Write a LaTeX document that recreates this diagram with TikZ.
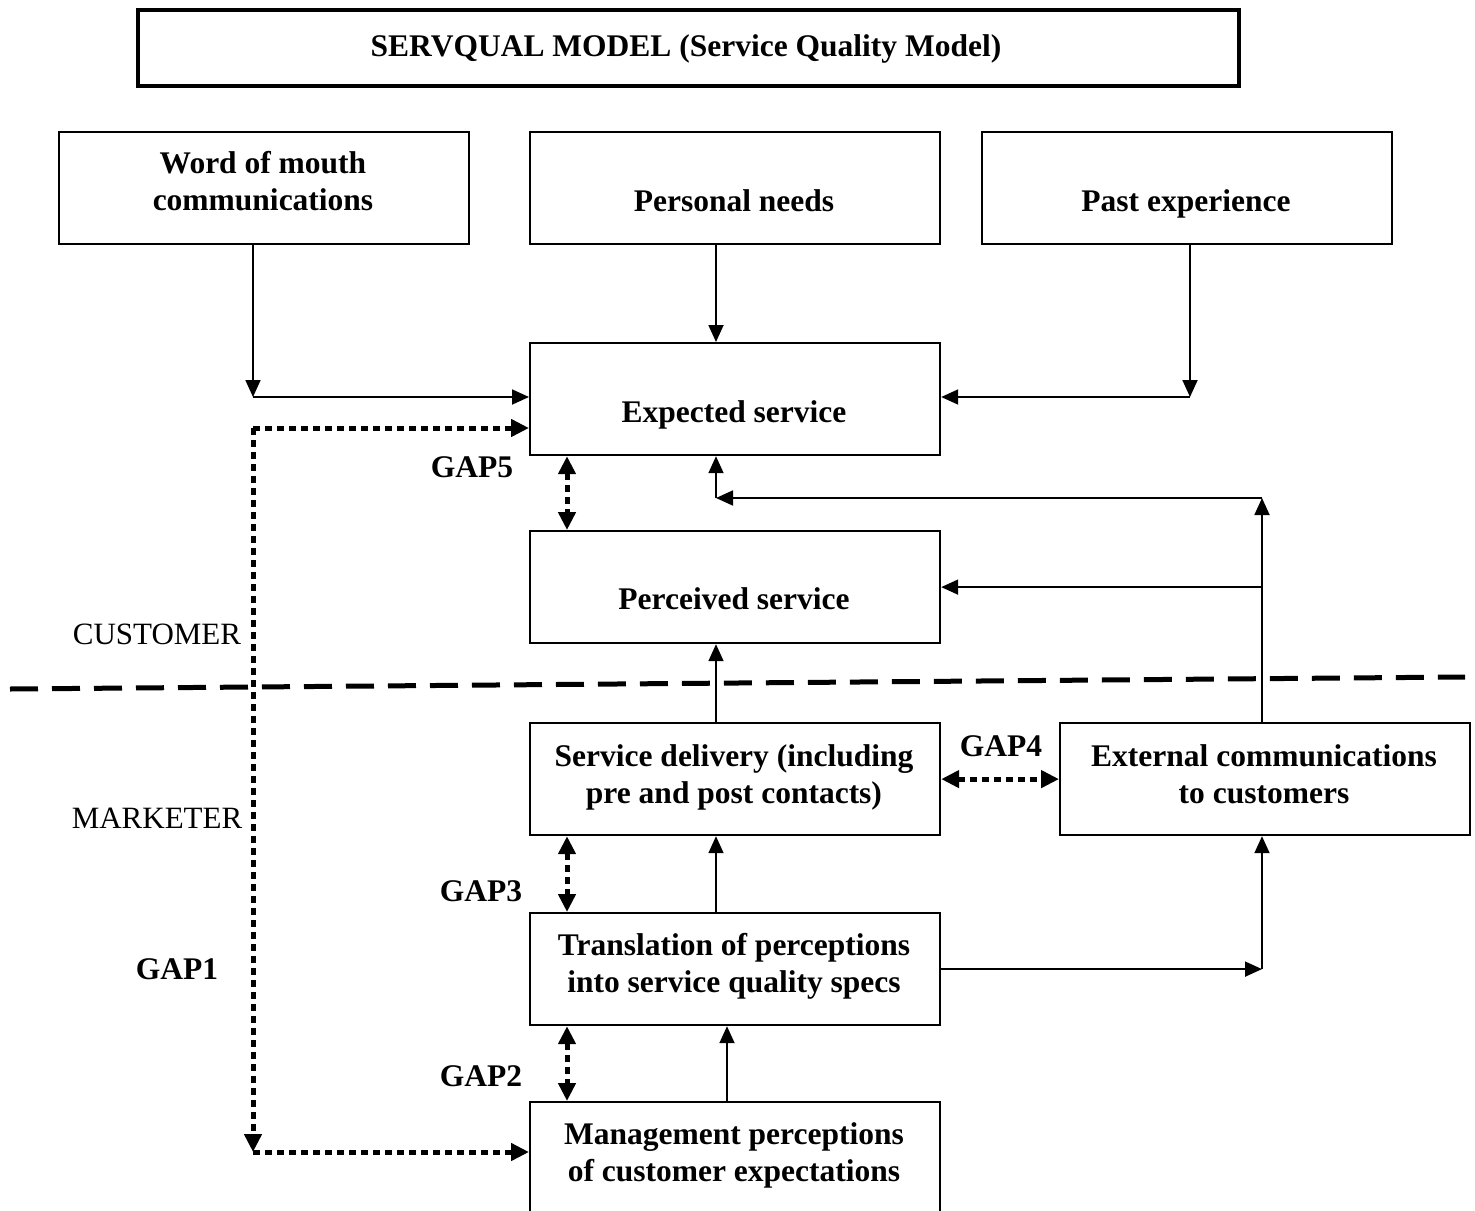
\documentclass[tikz,border=0pt]{standalone}
\usepackage{fontspec}
\setmainfont{Liberation Serif}
\usetikzlibrary{arrows.meta}

\begin{document}
\begin{tikzpicture}[x=1pt,y=-1pt,
  box/.style={draw, line width=2.2pt, minimum width=410pt, minimum height=112pt,
              inner sep=0pt, anchor=north west},
  txt/.style={anchor=base, align=center, inner sep=0pt,
              font=\fontsize{31.5}{37.5}\selectfont\bfseries},
  side/.style={anchor=base, inner sep=0pt, font=\fontsize{31}{36}\selectfont},
  arr/.style={line width=1.8pt, -{Triangle[length=17pt,width=15pt]}},
  dotline/.style={line width=5pt, dash pattern=on 6.5pt off 5.5pt},
  dotarr/.style={dotline, -{Triangle[length=18pt,width=17pt]}},
  dotdbl/.style={dotline, {Triangle[length=18pt,width=17pt]}-{Triangle[length=18pt,width=17pt]}},
  sepline/.style={line width=5pt, dash pattern=on 28pt off 14pt}
]
\useasboundingbox (0,0) rectangle (1475,1210);

% title
\node[draw, line width=4pt, minimum width=1101pt, minimum height=76pt, inner sep=0pt,
      anchor=north west] (title) at (136,8) {};
\node[txt] at (686,56) {SERVQUAL MODEL (Service Quality Model)};

% boxes
\node[box] (wom)   at (58,131)   {};
\node[box] (needs) at (529,131)  {};
\node[box] (past)  at (981,131)  {};
\node[box] (exp)   at (529,342)  {};
\node[box] (perc)  at (529,530)  {};
\node[box] (deliv) at (529,722)  {};
\node[box] (ext)   at (1059,722) {};
\node[box] (trans) at (529,912)  {};
\node[box] (mgmt)  at (529,1101) {};

% box texts (base anchor sits on the last line)
\node[txt] at (263,210.5)  {Word of mouth\\communications};
\node[txt] at (734,211)    {Personal needs};
\node[txt] at (1186,211)   {Past experience};
\node[txt] at (734,422)    {Expected service};
\node[txt] at (734,609)    {Perceived service};
\node[txt] at (734,803.5)  {Service delivery (including\\pre and post contacts)};
\node[txt] at (1264,803.5) {External communications\\to customers};
\node[txt] at (734,992.5)  {Translation of perceptions\\into service quality specs};
\node[txt] at (734,1181.5) {Management perceptions\\of customer expectations};

% gap labels
\node[txt] at (472,477)  {GAP5};
\node[txt] at (1001,756) {GAP4};
\node[txt] at (481,901)  {GAP3};
\node[txt] at (177,979)  {GAP1};
\node[txt] at (481,1086) {GAP2};

% side labels
\node[side] at (157,644) {CUSTOMER};
\node[side] at (157,828) {MARKETER};

% customer / marketer boundary
\coordinate (sepL) at (10,689);
\coordinate (sepR) at (1465,677);
\draw[sepline] (sepL) -- (sepR);

% helper points
\coordinate (colx) at (716,0);
\coordinate (colg) at (567,0);
\coordinate (colm) at (727,0);
\coordinate (womc) at (253,397);
\coordinate (pastc) at (1190,397);
\coordinate (extc) at (1262,498);
\coordinate (g1a) at (253,428);
\coordinate (g1b) at (253,1152);

% expectation inputs
\draw[arr] (wom.south -| womc) -- (womc);
\draw[arr] (womc) -- (womc -| exp.west);
\draw[arr] (needs.south -| colx) -- (exp.north -| colx);
\draw[arr] (past.south -| pastc) -- (pastc);
\draw[arr] (pastc) -- (pastc -| exp.east);

% external communications feedback
\draw[arr] (ext.north -| extc) -- (extc);
\draw[arr] (extc) -- (extc -| colx);
\draw[arr] (extc -| colx) -- (exp.south -| colx);
\draw[arr] (perc.east -| extc) -- (perc.east);

% delivery chain
\draw[arr] (deliv.north -| colx) -- (perc.south -| colx);
\draw[arr] (trans.north -| colx) -- (deliv.south -| colx);
\draw[arr] (mgmt.north -| colm) -- (trans.south -| colm);
\draw[arr] (trans.east) -- (trans.east -| extc);
\draw[arr] (trans.east -| extc) -- (ext.south -| extc);

% gaps
\draw[dotarr] (g1a) -- (g1a -| exp.west);
\draw[dotarr] (g1a) -- (g1b);
\draw[dotarr] (g1b) -- (g1b -| mgmt.west);
\draw[dotdbl] (exp.south -| colg) -- (perc.north -| colg);
\draw[dotdbl] (deliv.east) -- (ext.west);
\draw[dotdbl] (deliv.south -| colg) -- (trans.north -| colg);
\draw[dotdbl] (trans.south -| colg) -- (mgmt.north -| colg);
\end{tikzpicture}
\end{document}
